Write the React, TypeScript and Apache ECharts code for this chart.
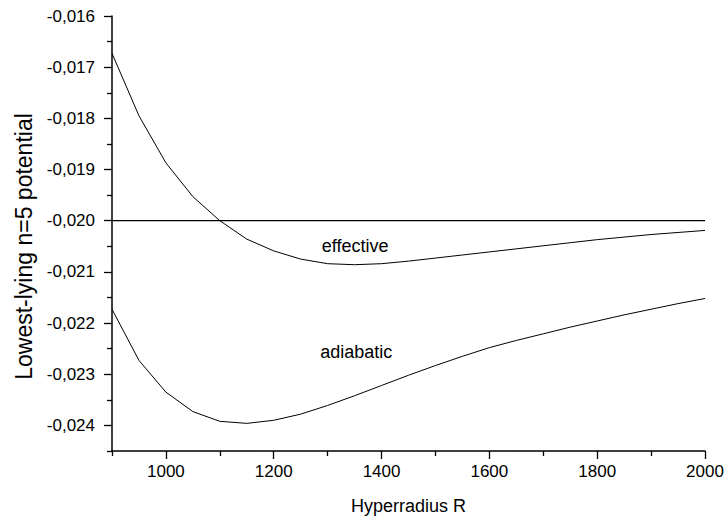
import React, { useEffect, useRef } from "react";
import * as echarts from "echarts";

// Hyperradius R (x) sampled every 50
const radius = [900, 950, 1000, 1050, 1100, 1150, 1200, 1250, 1300, 1350, 1400, 1450, 1500, 1550, 1600, 1650, 1700, 1750, 1800, 1850, 1900, 1950, 2000];
const effective = [-0.01673, -0.01795, -0.01887, -0.01953, -0.02, -0.02036, -0.02059, -0.02075, -0.02084, -0.02086, -0.02084, -0.02079, -0.02073, -0.02067, -0.02061, -0.02055, -0.02049, -0.02043, -0.02037, -0.02032, -0.02027, -0.02023, -0.02019];
const adiabatic = [-0.02173, -0.02273, -0.02335, -0.02373, -0.02392, -0.02396, -0.0239, -0.02378, -0.02361, -0.02342, -0.02322, -0.02302, -0.02283, -0.02265, -0.02248, -0.02234, -0.02221, -0.02208, -0.02196, -0.02184, -0.02173, -0.02162, -0.02152];
const referenceLevel = -0.02;

const xMajorTicks = [1000, 1200, 1400, 1600, 1800, 2000];
const xMinorTicks = [900, 1100, 1300, 1500, 1700, 1900];
const yMajorTicks = [-0.024, -0.023, -0.022, -0.021, -0.02, -0.019, -0.018, -0.017, -0.016];
const yMinorTicks = [-0.0245, -0.0235, -0.0225, -0.0215, -0.0205, -0.0195, -0.0185, -0.0175, -0.0165];

const effectiveLabel = { text: "effective", coord: [1351, -0.02049] };
const adiabaticLabel = { text: "adiabatic", coord: [1353, -0.02257] };

const FONT = "'Liberation Sans', Arial, sans-serif";

export default function App() {
  const ref = useRef<HTMLDivElement>(null);
  useEffect(() => {
    if (!ref.current) return;
    const chart = echarts.init(ref.current, null, { renderer: "svg" });
    const markLabel = (l: { text: string; coord: number[] }) => ({
      silent: true,
      symbol: "circle",
      symbolSize: 1,
      itemStyle: { color: "rgba(0,0,0,0)" },
      label: {
        show: true,
        position: "inside",
        formatter: l.text,
        color: "#000",
        fontSize: 18,
        fontFamily: FONT,
      },
      data: [{ coord: l.coord }],
    });
    chart.setOption({
      animation: false,
      backgroundColor: "#fff",
      grid: { left: 112, right: 21, top: 16, bottom: 70, containLabel: false, outerBoundsMode: "none" },
      xAxis: [
        {
          type: "value",
          min: 900,
          max: 2000,
          position: "bottom",
          name: "Hyperradius R",
          nameLocation: "middle",
          nameGap: 46,
          nameTextStyle: { color: "#000", fontSize: 18, fontFamily: FONT },
          axisLine: { show: true, lineStyle: { color: "#000", width: 1.5 } },
          axisTick: { show: true, inside: false, length: 8, customValues: xMajorTicks, lineStyle: { color: "#000", width: 1.3 } },
          axisLabel: {
            show: true,
            customValues: xMajorTicks,
            margin: 12,
            color: "#000",
            fontSize: 17,
            fontFamily: FONT,
            formatter: (v: number) => String(v),
          },
          splitLine: { show: false },
        },
        {
          type: "value",
          min: 900,
          max: 2000,
          position: "bottom",
          axisLine: { show: false },
          axisTick: { show: true, inside: false, length: 5, customValues: xMinorTicks, lineStyle: { color: "#000", width: 1.3 } },
          axisLabel: { show: false },
          splitLine: { show: false },
        },
      ],
      yAxis: [
        {
          type: "value",
          min: -0.0245,
          max: -0.016,
          position: "left",
          name: "Lowest-lying n=5 potential",
          nameLocation: "middle",
          nameGap: 77,
          nameTextStyle: { color: "#000", fontSize: 23, fontFamily: FONT, padding: [0, 26, 0, 0] },
          axisLine: { show: true, lineStyle: { color: "#000", width: 1.5 } },
          axisTick: { show: true, inside: false, length: 8, customValues: yMajorTicks, lineStyle: { color: "#000", width: 1.3 } },
          axisLabel: {
            show: true,
            customValues: yMajorTicks,
            margin: 17,
            color: "#000",
            fontSize: 17,
            fontFamily: FONT,
            formatter: (v: number) => v.toFixed(3).replace(".", ","),
          },
          splitLine: { show: false },
        },
        {
          type: "value",
          min: -0.0245,
          max: -0.016,
          position: "left",
          axisLine: { show: false },
          axisTick: { show: true, inside: false, length: 5, customValues: yMinorTicks, lineStyle: { color: "#000", width: 1.3 } },
          axisLabel: { show: false },
          splitLine: { show: false },
        },
      ],
      series: [
        {
          name: "effective",
          type: "line",
          data: radius.map((r, i) => [r, effective[i]]),
          showSymbol: false,
          lineStyle: { color: "#000", width: 1 },
          markPoint: markLabel(effectiveLabel),
        },
        {
          name: "adiabatic",
          type: "line",
          data: radius.map((r, i) => [r, adiabatic[i]]),
          showSymbol: false,
          lineStyle: { color: "#000", width: 1 },
          markPoint: markLabel(adiabaticLabel),
        },
        {
          name: "reference",
          type: "line",
          data: [
            [radius[0], referenceLevel],
            [radius[radius.length - 1], referenceLevel],
          ],
          showSymbol: false,
          lineStyle: { color: "#000", width: 1.3 },
        },
      ],
    });
    return () => chart.dispose();
  }, []);
  return (
    <div
      ref={ref}
      style={{ position: "absolute", left: 0, top: 0, width: 726, height: 521 }}
    />
  );
}
